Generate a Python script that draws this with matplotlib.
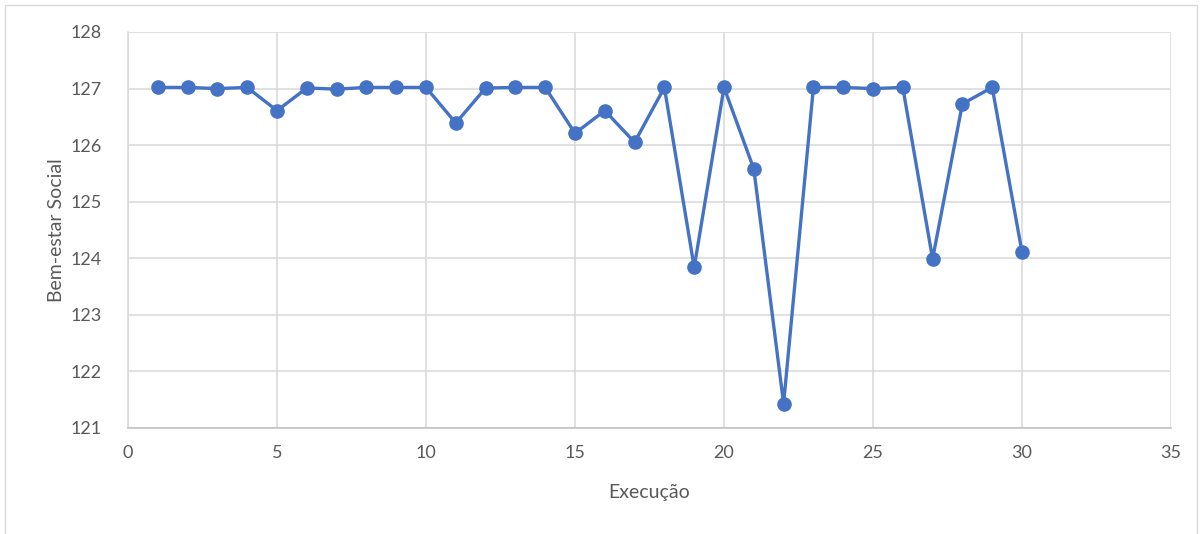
import matplotlib
matplotlib.use("Agg")
import matplotlib.pyplot as plt
from matplotlib.patches import Rectangle

execucao = list(range(1, 31))
bem_estar = [127.02, 127.02, 127.00, 127.02, 126.61, 127.01, 126.99, 127.02, 127.02, 127.02,
             126.39, 127.01, 127.02, 127.02, 126.21, 126.61, 126.05, 127.02, 123.84, 127.02,
             125.58, 121.43, 127.02, 127.02, 127.00, 127.02, 123.99, 126.73, 127.02, 124.11]
x_ticks = [0, 5, 10, 15, 20, 25, 30, 35]
y_ticks = [121, 122, 123, 124, 125, 126, 127, 128]

plt.rcParams['font.family'] = ['Lato', 'DejaVu Sans']
fig = plt.figure(figsize=(12.04, 5.34), dpi=100)
ax = fig.add_axes([128/1204, 1-428/534, (1171-128)/1204, (428-32)/534])

ax.plot(execucao, bem_estar, color='#4472C4', linewidth=2.4, marker='o',
        markersize=9.5, zorder=3)
ax.set_xlim(0, 35)
ax.set_ylim(121, 128)
ax.set_xticks(x_ticks)
ax.set_yticks(y_ticks)
ax.grid(True, color='#D9D9D9', linewidth=1.1)
ax.set_axisbelow(True)
for s in ['top', 'right']:
    ax.spines[s].set_visible(False)
ax.spines['left'].set_color('#D9D9D9')
ax.spines['bottom'].set_color('#BFBFBF')
ax.spines['left'].set_linewidth(1.1)
ax.spines['bottom'].set_linewidth(1.1)
ax.tick_params(length=0, labelsize=13, colors='#595959')
ax.tick_params(axis='x', pad=12)
ax.tick_params(axis='y', pad=19)
ax.set_xlabel('Execução', fontsize=14, color='#595959', labelpad=17)
ax.set_ylabel('Bem-estar Social', fontsize=14, color='#595959', labelpad=4)

fig.patches.append(Rectangle((5/1204, -0.05), (1197-5)/1204, 1.05 - 5/534,
                             transform=fig.transFigure, fill=False,
                             edgecolor='#D9D9D9', linewidth=1.0))
fig.savefig('out.png', dpi=100, facecolor='white')
